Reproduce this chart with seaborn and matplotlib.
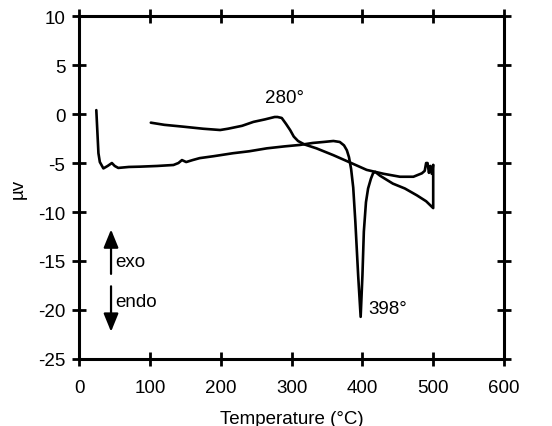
import matplotlib
matplotlib.use("Agg")
import matplotlib.pyplot as plt
import seaborn as sns
import pandas as pd

sns.set_style("ticks", {'axes.edgecolor': 'black', 'xtick.color': 'black',
                        'ytick.color': 'black', 'text.color': 'black',
                        'axes.labelcolor': 'black'})
plt.rcParams['font.family'] = ['Liberation Sans', 'DejaVu Sans']
plt.rcParams['axes.unicode_minus'] = False

# heating run, 25 -> 500 C
heat_t = [24, 25.5, 27, 29, 34, 40, 46, 50, 55, 70, 86, 110, 133, 140, 145, 151,
          160, 170, 190, 217, 240, 265, 290, 312, 330, 345, 359, 368, 374, 378, 381,
          384, 387, 390, 394, 397.5, 400, 402, 405, 408, 412, 415, 418, 425, 443,
          460, 477, 490, 500, 500]
heat_uv = [0.4, -1.8, -4.0, -4.9, -5.55, -5.3, -5.0, -5.3, -5.5, -5.4, -5.37, -5.3,
           -5.2, -5.0, -4.7, -4.9, -4.7, -4.5, -4.3, -4.0, -3.8, -3.5, -3.3, -3.15,
           -2.95, -2.85, -2.75, -2.85, -3.2, -3.7, -4.4, -5.6, -7.5, -11.0, -16.5,
           -20.7, -16.5, -12.0, -9.0, -7.6, -6.6, -6.05, -5.9, -6.3, -7.1, -7.6,
           -8.3, -8.9, -9.6, -5.2]

# cooling run, 500 -> 100 C
cool_t = [500, 498, 496, 494, 492, 490, 488, 484, 472, 453, 430, 406, 382, 359,
          335, 318, 309, 303, 298, 292, 286, 280, 276, 262, 246, 230, 210, 199,
          175, 147, 120, 101]
cool_uv = [-5.2, -6.1, -5.3, -6.0, -5.0, -5.0, -5.8, -6.05, -6.4, -6.4, -6.1, -5.7,
           -4.93, -4.2, -3.5, -3.1, -2.75, -2.3, -1.65, -1.0, -0.4, -0.3, -0.3,
           -0.55, -0.8, -1.2, -1.5, -1.63, -1.5, -1.29, -1.1, -0.88]

heat = pd.DataFrame({'t': heat_t, 'uv': heat_uv})
cool = pd.DataFrame({'t': cool_t, 'uv': cool_uv})

fs = 13.5

fig = plt.figure(figsize=(5.52, 4.27), dpi=100)
ax = fig.add_axes([0.1437, 0.157, 0.7693, 0.803])

sns.lineplot(data=heat, x='t', y='uv', sort=False, estimator=None,
             color='black', lw=1.9, ax=ax)
sns.lineplot(data=cool, x='t', y='uv', sort=False, estimator=None,
             color='black', lw=1.9, ax=ax)

ax.set_xlim(0, 600)
ax.set_ylim(-25, 10)
ax.set_xticks(range(0, 601, 100))
ax.set_yticks(range(-25, 11, 5))
for s in ax.spines.values():
    s.set_visible(True)
    s.set_linewidth(2.2)
ax.tick_params(direction='inout', length=10, width=2, labelsize=fs,
               top=True, right=True, labeltop=False, labelright=False)
ax.tick_params(axis='x', pad=9.5)
ax.tick_params(axis='y', pad=5)
ax.set_xlabel('Temperature (°C)', fontsize=fs, labelpad=10)
ax.set_ylabel('µv', fontsize=fs, labelpad=8)

ax.text(290, 1.7, '280°', fontsize=fs, ha='center', va='center')
ax.text(408, -19.9, '398°', fontsize=fs, ha='left', va='center')

arrow = dict(arrowstyle='-|>,head_width=0.45,head_length=1.1', color='black', lw=1.6)
ax.annotate('', xy=(44.8, -11.5), xytext=(44.8, -16.6), arrowprops=arrow)
ax.annotate('', xy=(44.8, -22.5), xytext=(44.8, -17.3), arrowprops=arrow)
ax.text(51, -15.1, 'exo', fontsize=fs, ha='left', va='center')
ax.text(51, -19.1, 'endo', fontsize=fs, ha='left', va='center')

fig.savefig('out.png', dpi=100)
